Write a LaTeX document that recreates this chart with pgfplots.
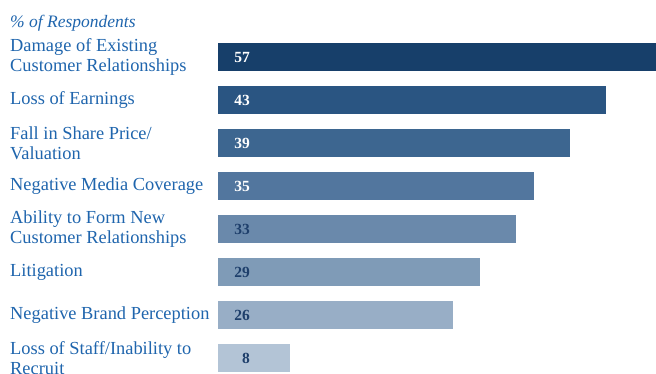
\documentclass[border=0pt]{standalone}
\usepackage{pgfplots}
\pgfplotsset{compat=1.18}
\usepackage{fontspec}
\setmainfont{Liberation Serif}
\definecolor{lab}{HTML}{1F65AD}
\definecolor{navy}{HTML}{1E3F6B}
\definecolor{c1}{HTML}{173F6A}
\definecolor{c2}{HTML}{2A5582}
\definecolor{c3}{HTML}{3D6690}
\definecolor{c4}{HTML}{52769E}
\definecolor{c5}{HTML}{6A89AB}
\definecolor{c6}{HTML}{7F9BB7}
\definecolor{c7}{HTML}{98AEC6}
\definecolor{c8}{HTML}{B3C4D6}
\begin{document}
\begin{tikzpicture}[x=1pt,y=1pt]
\useasboundingbox (0,0) rectangle (656,-374);
\node[anchor=base west, inner sep=0pt, font=\fontsize{17.5}{20}\selectfont\itshape, text=lab] at (10,-28) {\% of Respondents};
\begin{axis}[
  at={(218pt,-42pt)}, anchor=north west,
  scale only axis, width=438pt, height=332.4pt,
  xmin=0, xmax=48.56, ymin=-0.35, ymax=7.38, y dir=reverse,
  axis line style={draw=none}, tick style={draw=none},
  xtick=\empty,
  ytick={0,...,7},
  yticklabels={{Damage of Existing\\Customer Relationships},{Loss of Earnings},{Fall in Share Price/\\Valuation},{Negative Media Coverage},{Ability to Form New\\Customer Relationships},{Litigation},{Negative Brand Perception},{Loss of Staff/Inability to\\Recruit}},
  yticklabel style={anchor=west, align=left, xshift=-208pt, yshift=0pt, inner sep=0pt, font=\fontsize{18.4}{19.5}\selectfont, text=lab},
]
\addplot[xbar, bar width=28.5pt, bar shift=0pt, fill=c1, draw=none] coordinates {(57,0)};
\addplot[xbar, bar width=28.5pt, bar shift=0pt, fill=c2, draw=none] coordinates {(43,1)};
\addplot[xbar, bar width=28.5pt, bar shift=0pt, fill=c3, draw=none] coordinates {(39,2)};
\addplot[xbar, bar width=28.5pt, bar shift=0pt, fill=c4, draw=none] coordinates {(35,3)};
\addplot[xbar, bar width=28.5pt, bar shift=0pt, fill=c5, draw=none] coordinates {(33,4)};
\addplot[xbar, bar width=28.5pt, bar shift=0pt, fill=c6, draw=none] coordinates {(29,5)};
\addplot[xbar, bar width=28.5pt, bar shift=0pt, fill=c7, draw=none] coordinates {(26,6)};
\addplot[xbar, bar width=28.5pt, bar shift=0pt, fill=c8, draw=none] coordinates {(8,7)};
\addplot[only marks, mark=none, nodes near coords, point meta=explicit symbolic,
  nodes near coords style={anchor=east, inner sep=0pt, text=white, font=\bfseries\fontsize{15.5}{16}\selectfont}]
  coordinates {(3.55,0) [57] (3.55,1) [43] (3.55,2) [39] (3.55,3) [35]};
\addplot[only marks, mark=none, nodes near coords, point meta=explicit symbolic,
  nodes near coords style={anchor=east, inner sep=0pt, text=navy, font=\bfseries\fontsize{15.5}{16}\selectfont}]
  coordinates {(3.55,4) [33] (3.55,5) [29] (3.55,6) [26] (3.55,7) [8]};
\end{axis}
\end{tikzpicture}
\end{document}
